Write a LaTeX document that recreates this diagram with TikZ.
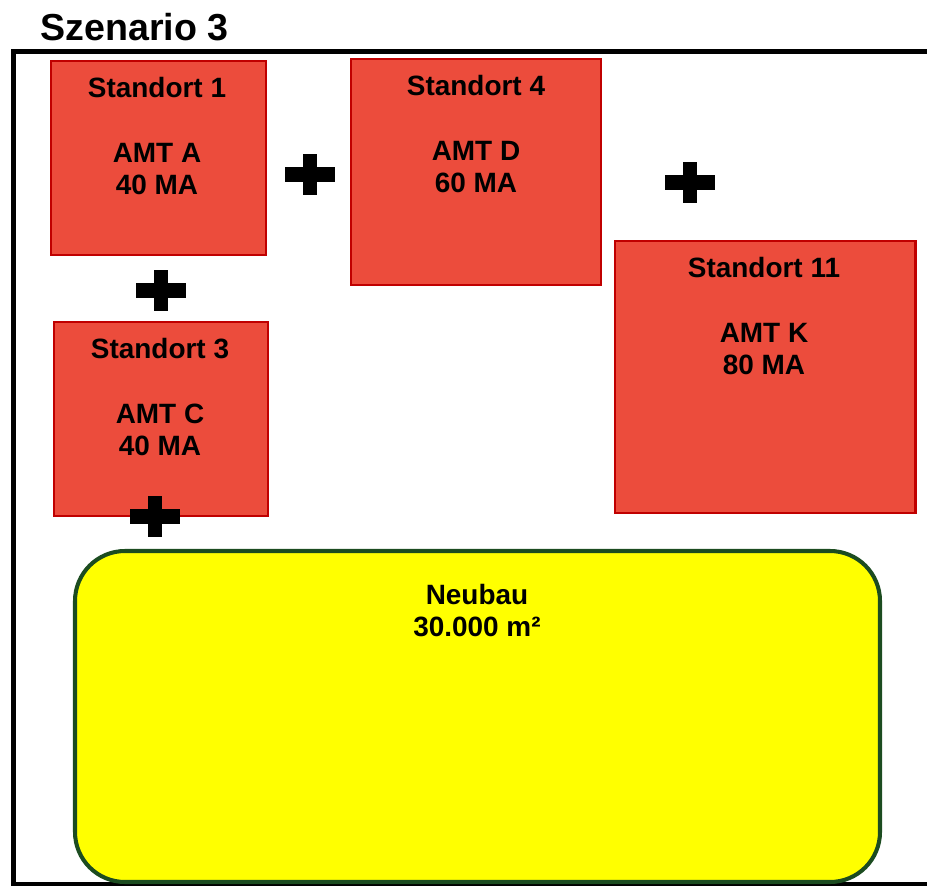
\documentclass[tikz,border=0pt]{standalone}
\usepackage{fontspec}
\setmainfont{Liberation Sans}
\definecolor{boxred}{RGB}{236,76,60}
\definecolor{boxborder}{RGB}{192,0,0}
\definecolor{neuyellow}{RGB}{255,255,0}
\definecolor{neugreen}{RGB}{28,76,32}
\begin{document}
\begin{tikzpicture}[x=0.02cm,y=-0.02cm]

\tikzset{
    standort/.style={fill=boxred,draw=boxborder,line width=1.7pt},
    boxtext/.style={anchor=north,align=center,inner sep=0pt,
        font=\fontsize{15.9}{18.4}\selectfont\bfseries},
    pics/plusmark/.style={code={
        \fill[black] (-25,-7.5) rectangle (25,7.5);
        \fill[black] (-7,-20.5) rectangle (7,20.5);
    }}
}

\useasboundingbox (0,0) rectangle (927,889);

%% Title
\node[anchor=base west,inner sep=0pt,font=\fontsize{21.4}{25}\selectfont\bfseries] (title) at (40,40) {Szenario 3};

%% Frame
\draw[line width=2.3pt] (960,51.5) -- (13.5,51.5) -- (13.5,884) -- (960,884);

%% Neubau
\draw[fill=neuyellow,draw=neugreen,line width=2.3pt,rounded corners=1cm] (75,551) rectangle (880,882);
\node[boxtext] (neubau) at (477,584) {Neubau\\30.000 m²};

%% Standorte
\draw[standort] (51,61) rectangle (266,255);
\node[boxtext] (st1) at (157,77) {Standort 1\\[18.4pt]AMT A\\40 MA};

\draw[standort] (351,59) rectangle (601,285);
\node[boxtext] (st4) at (476,75) {Standort 4\\[18.4pt]AMT D\\60 MA};

\draw[standort] (615,241) rectangle (915,513);
\node[boxtext] (st11) at (764,257) {Standort 11\\[18.4pt]AMT K\\80 MA};

\draw[standort] (54,322) rectangle (268,516);
\node[boxtext] (st3) at (160,338) {Standort 3\\[18.4pt]AMT C\\40 MA};

%% Plus signs
\pic at (310,174.5) {plusmark};
\pic at (161,290.5) {plusmark};
\pic at (690,182.5) {plusmark};
\pic at (155,516.5) {plusmark};

\end{tikzpicture}
\end{document}
